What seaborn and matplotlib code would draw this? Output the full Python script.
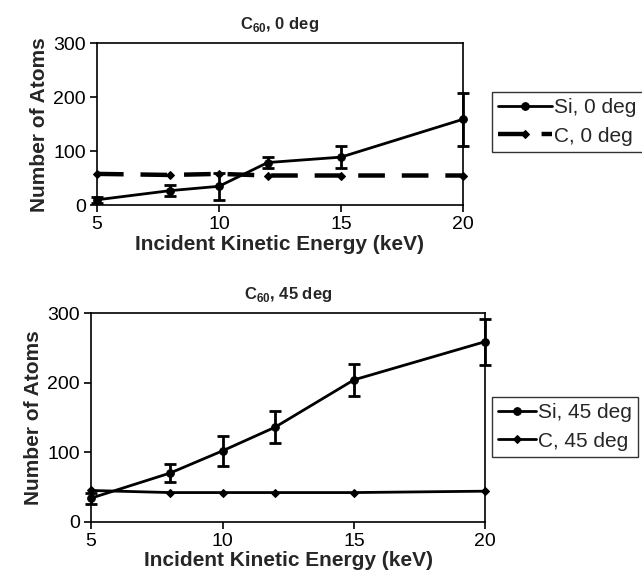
import numpy as np
import pandas as pd
import matplotlib
matplotlib.use("Agg")
import matplotlib.pyplot as plt
import seaborn as sns

# data
energy = [5, 8, 10, 12, 15, 20]

si_0 = [10, 27, 35, 79, 89, 159]
si_0_err = [6, 10, 25, 11, 20, 49]
c_0 = [58, 56, 58, 55, 55, 55]

si_45 = [34, 70, 102, 136, 204, 259]
si_45_err = [8, 13, 22, 23, 23, 33]
c_45 = [45, 42, 42, 42, 42, 44]

xticks = [5, 10, 15, 20]
yticks = [0, 100, 200, 300]

sns.set_style("ticks")
plt.rcParams['font.family'] = ['Liberation Sans', 'DejaVu Sans']
plt.rcParams['mathtext.fontset'] = 'custom'
plt.rcParams['mathtext.rm'] = 'Liberation Sans'
plt.rcParams['mathtext.bf'] = 'Liberation Sans:bold'

fig = plt.figure(figsize=(6.42, 5.83), dpi=100)
ax1 = fig.add_axes([0.151, 0.648, 0.570, 0.278])
ax2 = fig.add_axes([0.142, 0.105, 0.614, 0.358])


def draw(ax, si, si_err, c, angle, c_dashed):
    df = pd.DataFrame({"x": energy, "si": si, "c": c})
    sns.lineplot(data=df, x="x", y="si", ax=ax, color="black", lw=2,
                 marker="o", markersize=5.5, mec="black", clip_on=False,
                 label=f"Si, {angle} deg")
    if c_dashed:
        sns.lineplot(data=df, x="x", y="c", ax=ax, color="black", lw=3.2,
                     marker="D", markersize=4.5, mec="black", clip_on=False,
                     label=f"C, {angle} deg")
        ax.lines[-1].set_dashes([6, 3.8])
    else:
        sns.lineplot(data=df, x="x", y="c", ax=ax, color="black", lw=2,
                     marker="D", markersize=4.5, mec="black", clip_on=False,
                     label=f"C, {angle} deg")
    eb = ax.errorbar(energy, si, yerr=si_err, fmt="none", ecolor="black",
                     elinewidth=2, capsize=4.3, capthick=2)
    for art in eb.lines[1] + eb.lines[2]:
        art.set_clip_on(False)
    ax.set_xlim(5, 20)
    ax.set_ylim(0, 300)
    ax.set_xticks(xticks)
    ax.set_yticks(yticks)
    ax.tick_params(labelsize=14, length=5, width=1.2, colors="black", pad=3)
    for s in ax.spines.values():
        s.set_visible(True)
        s.set_linewidth(1.2)
        s.set_color("black")
    ax.set_xlabel("Incident Kinetic Energy (keV)", fontsize=15,
                  fontweight="bold", labelpad=1)
    ax.set_ylabel("Number of Atoms", fontsize=15, fontweight="bold",
                  labelpad=3)
    ax.set_title(r"C$_{\mathbf{60}}$, " + f"{angle} deg", fontsize=12,
                 fontweight="bold", pad=10)
    ax.get_legend().remove()


draw(ax1, si_0, si_0_err, c_0, 0, True)
draw(ax2, si_45, si_45_err, c_45, 45, False)

for ax, anchor, hl in [(ax1, (0.766, 0.842), 2.6), (ax2, (0.766, 0.319), 1.8)]:
    h, l = ax.get_legend_handles_labels()
    leg = fig.legend(h, l, loc="upper left", bbox_to_anchor=anchor,
                     fontsize=15, frameon=True, fancybox=False,
                     edgecolor="black", handlelength=hl, handletextpad=0.1,
                     borderpad=0.3, labelspacing=0.45, borderaxespad=0)
    leg.get_frame().set_linewidth(1.0)

fig.savefig("out.png", dpi=100)
